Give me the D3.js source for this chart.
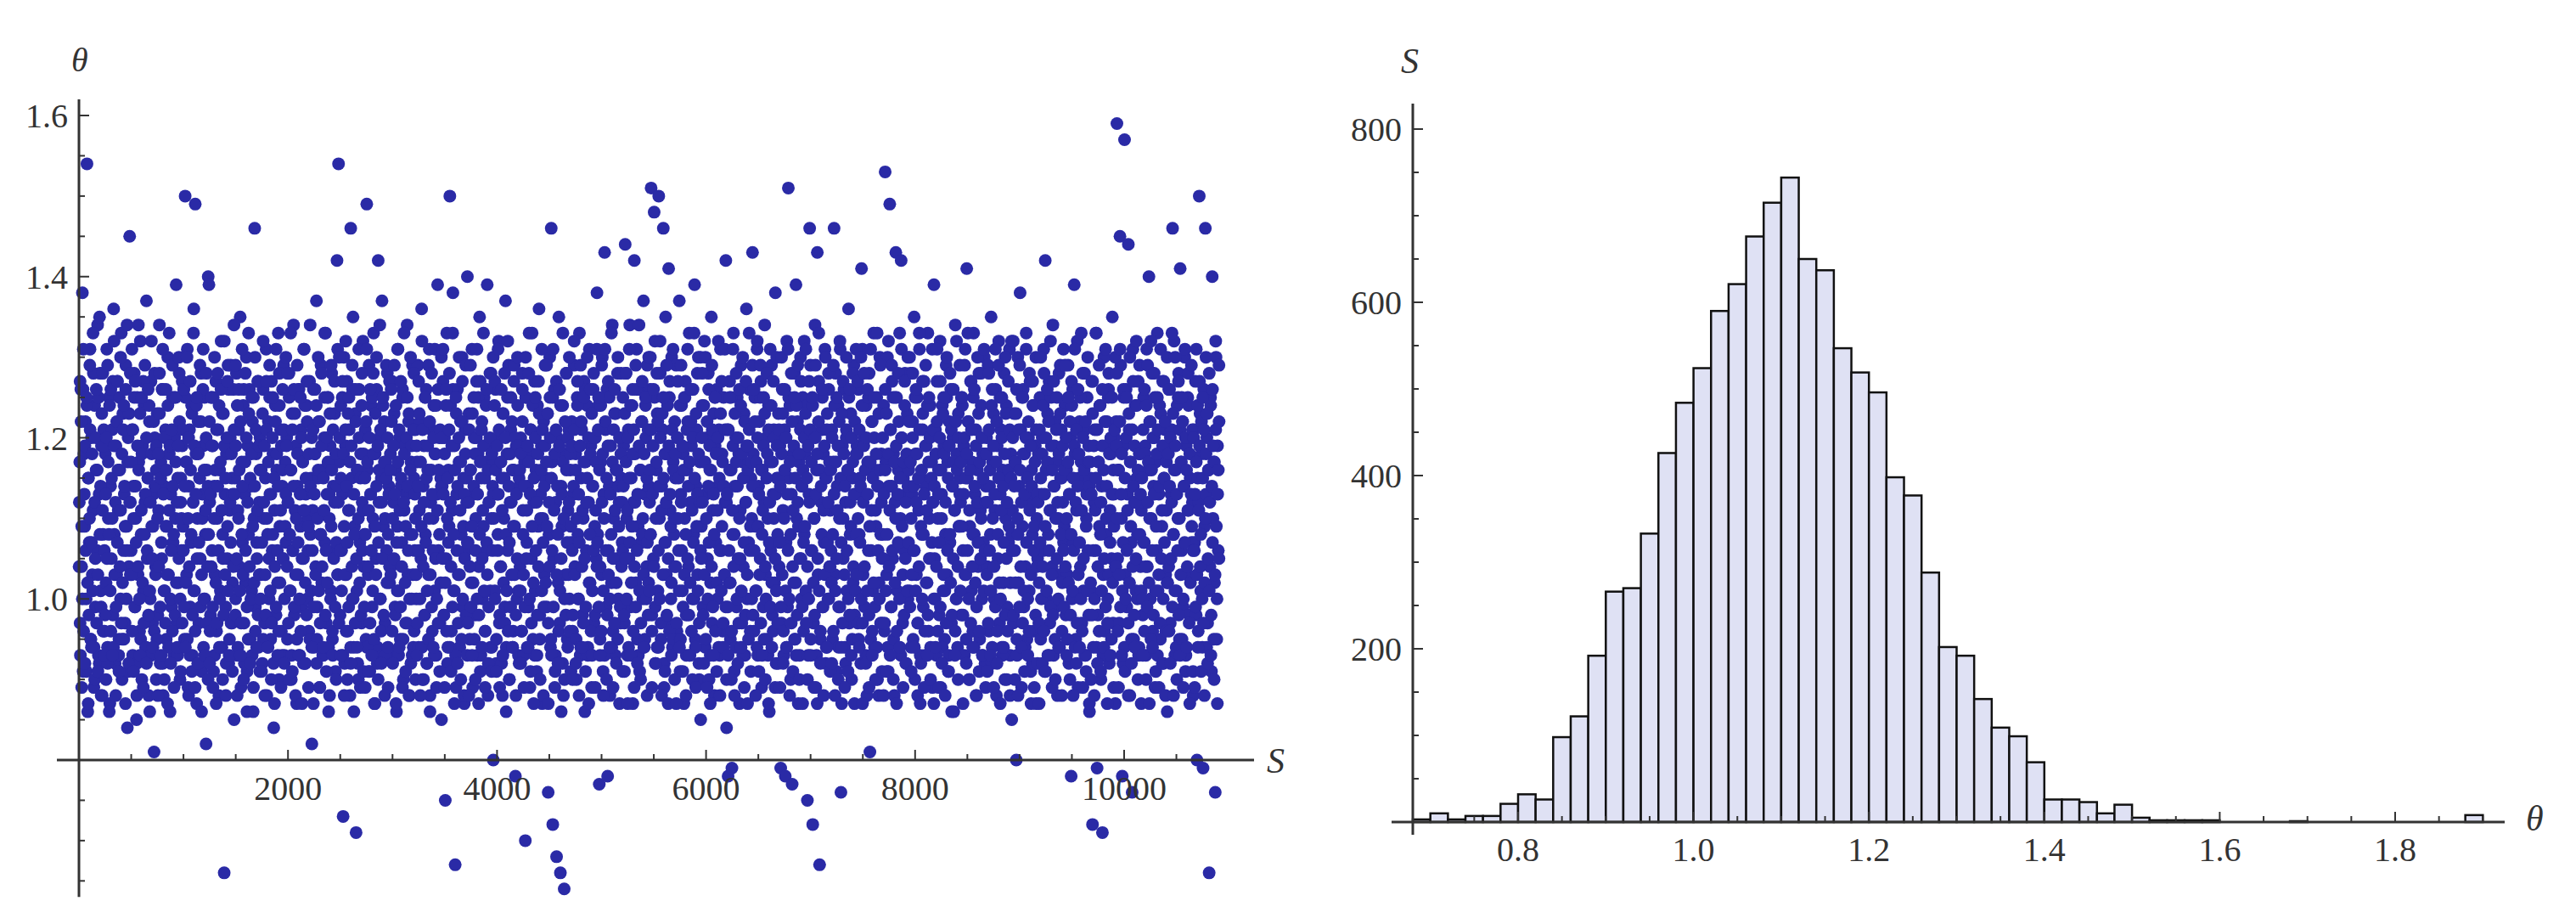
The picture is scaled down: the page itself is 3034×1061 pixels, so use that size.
<!DOCTYPE HTML>
<html>
  <head>
    <title>theta vs S scatter and histogram</title>
    <style>
      html, body { margin: 0; padding: 0; background: #fff; }
    </style>
  </head>
  <body>
    <svg width="3034" height="1061"></svg>
    <script src="https://cdnjs.cloudflare.com/ajax/libs/d3/7.8.5/d3.min.js"></script>
    <script>
      // scatter: theta*100 per block of S (block width 248)
      var scatterCols = [
        "112 97 126 104 138 91 118 109 122 100 154 86 115 107 131 95 120 103 111 89 124 99 116 106 134 93 113 128 101 119 88 108 121 96",
        "118 102 131 94 110 125 87 114 105 121 98 136 108 92 119 103 127 111 95 116 100 133 90 123 106 113 97 129 109 84 120 104 145 112",
        "106 121 93 114 128 99 110 85 125 103 117 96 132 108 90 119 101 124 112 94 137 105 115 88 122 100 127 109 97 113 81 120 104 116",
        "123 98 111 134 92 117 105 126 88 114 101 121 95 109 130 103 118 86 113 99 125 107 93 120 110 139 97 115 102 128 90 112 106 119",
        "109 126 95 150 117 103 131 89 114 121 99 107 124 93 112 136 101 149 118 87 110 122 97 115 105 128 91 113 119 100 125 108 82 116 104 140",
        "139 112 98 125 106 119 91 114 103 127 96 110 121 88 116 101 132 94 108 123 66 113 99 118 105 129 92 111 120 97 115 102 126 85",
        "115 100 128 93 111 121 104 135 89 117 107 124 97 113 102 130 91 119 108 126 95 114 101 122 86 110 146 99 118 105 127 94 112 120",
        "103 119 92 126 110 97 115 131 88 108 122 100 113 95 127 106 118 84 111 124 98 116 102 133 90 109 121 96 114 105 129 93 117 107",
        "120 95 112 128 101 116 90 123 106 134 98 111 119 87 114 103 126 93 109 121 99 117 105 131 92 113 124 100 110 96 127 108 115 82",
        "111 126 94 118 104 137 99 115 122 89 108 129 102 116 93 120 107 133 97 113 125 86 110 119 101 128 95 114 106 123 91 117 142 103",
        "154 117 98 124 106 113 73 130 92 119 103 127 96 111 121 88 146 115 100 135 94 109 123 71 101 116 90 126 107 118 97 112 132 104",
        "108 121 95 149 116 103 129 91 113 124 99 110 133 87 118 105 126 94 142 112 120 100 115 137 93 109 122 97 117 106 128 89 114 102",
        "118 104 127 93 112 123 99 116 86 109 131 101 120 95 114 107 125 90 111 119 97 113 134 103 122 88 108 117 100 129 94 115 106 121",
        "100 117 129 94 111 122 105 136 90 114 119 98 108 126 92 116 103 131 88 112 121 96 110 124 101 118 93 113 139 106 120 97 115 85",
        "114 127 98 120 75 105 133 92 116 109 150 124 96 111 138 101 119 67 89 113 126 103 117 94 122 108 130 99 115 87 121 106 112 140",
        "107 123 95 116 102 131 89 113 120 98 110 127 93 118 104 135 91 115 122 100 109 125 96 117 106 139 88 112 119 101 128 94 114 80",
        "117 101 126 92 113 108 132 97 120 104 115 88 123 110 99 137 94 118 106 129 90 112 121 103 116 96 127 109 78 119 100 124 93 114",
        "104 120 96 128 111 93 117 70 125 107 114 99 133 89 121 105 118 95 112 127 101 116 91 124 109 136 98 113 119 87 110 122 103 115",
        "115 99 123 76 108 130 94 146 117 72 105 126 91 112 68 120 102 135 97 66 114 109 124 88 64 118 103 128 95 111 121 100 116 107",
        "122 96 113 129 104 118 90 125 108 100 133 93 115 121 98 110 127 86 117 106 124 94 112 131 102 119 89 114 126 97 109 120 105 138",
        "108 124 77 95 117 103 130 91 113 143 121 99 126 78 106 114 88 119 102 134 96 110 123 93 116 105 128 100 112 120 97 115 107 125",
        "119 97 144 128 110 93 121 105 134 99 115 124 87 112 142 118 102 131 95 109 126 91 116 107 122 100 137 94 113 120 104 129 98 114",
        "112 126 151 98 119 105 148 132 92 116 123 101 150 110 128 95 114 121 146 89 107 135 103 118 97 141 125 111 100 130 94 117 108 122",
        "115 129 96 120 106 137 91 113 124 101 118 87 110 127 98 116 122 104 133 93 112 119 100 126 108 139 95 114 121 103 130 90 117 85",
        "109 124 99 117 132 94 113 120 105 128 90 116 102 135 97 111 123 88 119 107 126 100 114 121 93 131 106 118 96 125 103 112 142 84",
        "121 78 102 127 95 116 79 108 133 91 114 120 99 125 105 118 87 111 129 97 117 104 123 93 112 136 100 119 107 126 96 115 110 143",
        "118 96 125 109 101 131 93 114 122 105 127 89 116 99 112 134 103 120 95 110 124 86 117 106 129 98 113 121 102 138 92 115 108 123",
        "104 119 79 97 126 111 93 121 78 107 132 99 151 115 124 90 113 77 118 102 128 95 139 110 122 87 117 105 130 100 114 125 96 108",
        "118 101 124 75 93 113 146 129 106 120 72 97 110 134 89 116 143 103 127 67 95 112 121 99 118 107 131 92 115 123 100 126 104 111",
        "106 121 95 117 146 103 128 91 114 124 99 110 131 76 87 119 105 126 94 112 120 101 116 136 97 108 123 90 115 102 129 98 113 118",
        "119 97 126 108 115 92 141 131 103 120 99 113 124 88 117 106 128 81 95 111 122 101 133 94 116 109 125 90 114 102 130 97 118 105",
        "108 124 96 153 117 103 130 91 114 149 121 99 127 105 118 88 112 143 125 101 116 94 133 110 142 120 97 115 106 128 92 113 123 100",
        "116 101 128 94 113 122 106 135 90 118 103 125 97 111 131 87 115 108 121 99 127 93 114 119 102 133 96 110 124 105 117 89 112 139",
        "105 121 93 127 110 116 98 132 89 113 124 101 119 95 108 129 103 117 91 122 107 126 97 114 120 86 111 134 100 118 94 123 109 115",
        "112 98 125 106 119 93 131 103 141 115 122 90 109 127 101 117 96 133 108 113 121 88 116 104 128 95 111 124 100 118 107 130 92 114",
        "120 104 129 96 114 108 135 92 117 123 100 111 126 88 119 105 132 97 113 121 94 116 102 128 90 110 124 99 115 107 131 93 118 85",
        "111 97 123 106 117 80 93 130 102 114 138 121 89 109 126 99 118 104 133 95 112 120 101 127 91 116 108 124 96 113 119 87 110 105",
        "118 102 125 95 113 120 106 131 91 142 116 100 123 108 127 97 111 119 104 134 93 114 122 99 117 88 110 128 103 115 121 96 112 107",
        "109 124 98 116 103 129 92 113 120 78 100 126 107 139 118 95 111 132 89 115 122 104 117 97 128 101 114 121 93 110 125 106 119 86",
        "115 101 127 72 94 112 121 106 133 79 98 117 109 124 90 114 71 103 130 96 119 108 122 100 126 92 111 118 105 135 97 113 120 87",
        "122 159 105 116 97 145 129 110 78 92 119 157 103 126 99 113 144 121 88 117 107 76 131 95 112 124 101 115 108 127 94 118 104 111",
        "112 98 125 107 119 93 131 104 116 140 122 100 110 128 96 114 120 89 117 106 133 101 113 124 95 118 109 127 92 115 121 103 111 86",
        "119 104 126 97 113 121 146 108 132 93 116 101 124 110 128 95 141 117 106 122 99 114 130 91 119 103 125 111 98 115 120 107 112 88",
        "121 107 127 98 80 115 112 150 123 101 118 94 79 126 109 146 113 120 97 116 66 104 124 91 140 110 117 102 76 130 95 119 106 122"
      ];
      // denser core of the same blocks (second pass of reading)
      var scatterCore = [
        "104 117 93 122 109 100 126 96 113 119 106 91 124 102 115 98 110 121 95 107 118 101 128 94 112 105 120 97 116 103 125 92 108 114 99 123 111 96 119 106",
        "98 113 120 105 92 117 108 124 101 96 115 110 127 94 119 103 112 99 122 107 116 93 125 104 111 97 118 102 121 95 114 109 126 100 106 117 91 123 112 103",
        "117 103 96 121 110 125 99 114 107 92 119 104 116 100 123 95 111 118 102 127 97 108 113 94 120 106 115 98 124 101 112 93 118 105 109 122 96 114 103 119",
        "95 110 118 104 123 99 115 107 126 92 113 101 120 97 109 116 103 124 94 111 119 100 106 121 96 114 108 125 98 117 102 112 93 119 105 122 100 115 110 97",
        "121 106 99 114 125 102 117 95 110 120 104 93 116 108 123 98 112 101 119 96 113 124 105 92 118 107 115 99 122 103 110 126 94 116 100 111 120 97 108 114",
        "108 122 96 113 104 119 99 125 110 93 116 102 121 97 114 106 124 100 117 94 111 123 105 98 119 103 115 92 120 109 101 126 95 112 107 118 97 113 104 121",
        "113 98 119 105 124 94 110 116 101 122 97 108 114 103 126 92 117 106 120 99 112 95 123 104 115 100 118 93 109 125 102 114 96 121 107 111 98 119 103 116",
        "100 116 107 123 95 112 119 103 98 121 110 94 117 105 125 101 113 97 120 108 92 115 104 122 99 118 106 114 96 124 102 111 119 93 116 105 121 100 109 113",
        "119 104 112 97 125 108 101 116 93 121 106 114 99 123 103 110 95 118 107 126 100 113 96 120 105 117 92 111 124 102 115 98 122 106 109 118 95 114 101 120",
        "106 121 99 113 118 103 124 95 110 116 101 122 97 108 119 104 93 115 111 125 98 106 120 102 117 94 113 123 100 109 116 96 121 105 112 99 118 107 114 103",
        "112 97 120 106 115 101 125 93 118 109 103 121 96 114 107 123 99 111 117 94 119 104 126 100 113 108 97 122 105 116 92 110 120 102 115 98 124 106 111 118",
        "99 115 108 122 94 117 104 111 120 97 113 106 125 101 118 95 109 123 103 114 92 119 107 116 100 121 96 112 105 124 98 117 110 93 115 102 120 108 113 104",
        "116 103 122 96 110 119 105 113 98 124 107 101 117 93 121 111 99 115 104 126 95 112 118 102 109 120 97 114 106 123 100 116 92 119 108 103 121 96 113 110",
        "103 119 97 114 106 123 100 117 109 94 121 104 112 98 125 107 115 101 119 95 110 122 103 116 99 113 106 120 93 118 105 124 100 111 97 116 108 121 102 114",
        "120 105 113 98 118 102 124 96 110 115 107 121 94 112 104 119 99 126 108 101 116 93 123 106 114 97 120 103 111 117 95 122 100 109 113 105 118 98 115 107",
        "97 112 121 104 116 99 109 123 102 114 95 118 106 120 100 113 125 98 108 117 93 121 105 111 119 101 115 96 124 107 103 116 99 112 120 94 110 118 106 113",
        "110 124 100 116 95 119 106 113 121 98 104 117 92 111 123 102 115 97 120 108 101 125 96 114 107 118 99 112 122 94 109 116 103 120 98 113 105 119 101 115",
        "116 101 118 96 122 108 103 114 99 125 105 111 119 94 117 100 113 121 97 109 124 102 115 93 120 106 112 98 118 104 123 95 110 116 101 121 107 99 114 119",
        "102 117 109 123 97 112 104 120 95 115 106 125 99 111 118 93 121 103 114 108 96 119 101 124 105 113 92 117 110 100 122 98 116 107 120 103 112 96 118 109",
        "119 106 98 114 121 103 116 95 110 124 100 113 107 119 94 122 104 111 97 117 105 126 99 112 115 93 120 102 108 118 96 123 101 114 106 120 98 111 117 104",
        "107 121 99 116 104 124 96 112 118 101 110 93 122 106 115 98 119 103 125 100 113 108 94 117 105 121 97 111 123 102 116 95 114 109 120 99 118 104 112 106",
        "114 98 123 105 117 100 111 120 94 115 107 124 102 109 118 96 121 104 112 99 126 106 113 93 119 101 116 97 122 108 110 103 118 95 124 100 115 107 121 102",
        "101 116 108 121 96 113 119 104 125 99 110 117 94 122 106 114 100 120 97 111 123 103 115 92 118 107 112 98 124 105 119 96 113 109 102 121 95 116 110 104",
        "118 104 97 120 110 115 101 124 95 112 106 119 99 116 103 125 108 93 121 105 114 98 117 102 122 96 111 120 107 100 115 94 123 109 113 101 118 97 112 106",
        "105 120 112 98 124 103 117 95 110 122 100 114 107 119 93 116 104 121 99 113 108 125 96 118 102 111 120 94 115 106 123 101 109 117 97 114 103 121 99 112",
        "113 99 121 106 116 102 125 96 111 119 104 108 123 94 117 100 114 120 97 110 105 124 101 118 93 115 107 122 98 112 119 103 116 95 121 106 109 117 100 114",
        "98 114 106 122 101 117 94 120 109 113 103 125 97 116 108 111 119 95 123 104 100 115 118 93 121 107 112 99 124 102 117 96 110 120 105 113 101 119 97 115",
        "121 107 114 99 118 103 123 96 110 116 101 120 94 113 106 125 100 117 108 97 122 104 111 119 95 115 102 124 98 112 109 118 93 121 105 114 99 116 107 120",
        "109 123 97 115 104 119 100 112 121 95 117 106 124 102 110 98 120 113 93 118 105 122 101 116 96 114 108 125 99 111 119 103 115 94 121 107 112 100 117 104",
        "116 102 120 108 96 113 124 101 117 105 111 119 94 122 99 115 107 123 97 110 118 103 114 92 121 106 116 100 125 98 112 109 120 95 117 104 113 122 101 108",
        "103 118 110 95 121 107 114 100 124 97 112 119 104 116 93 120 101 113 125 98 109 117 106 122 96 115 102 120 99 111 118 94 114 106 123 100 116 108 112 97",
        "120 105 113 97 116 101 123 108 94 118 104 111 121 99 114 106 125 95 117 102 110 119 96 113 107 122 100 115 93 120 109 103 117 98 124 105 112 118 101 114",
        "107 122 99 117 110 103 120 95 114 106 125 101 112 118 97 115 104 121 93 109 116 100 123 108 113 96 119 102 111 124 98 117 105 120 94 115 107 112 121 100",
        "114 100 118 104 122 96 113 107 120 99 116 110 94 123 103 118 101 112 97 125 106 115 93 119 108 102 121 98 114 105 117 111 96 122 100 116 104 120 109 113",
        "101 117 109 124 98 113 120 103 115 95 118 106 122 100 111 116 97 121 104 108 125 94 114 102 119 99 112 107 123 96 117 105 110 120 93 115 101 118 106 112",
        "118 103 112 97 121 106 116 101 124 94 110 119 104 113 99 117 122 96 108 115 102 125 100 111 120 93 114 107 118 98 123 105 112 96 116 109 121 102 115 108",
        "106 120 98 114 117 102 123 95 110 108 121 99 116 104 112 125 97 118 101 113 94 120 107 115 100 122 96 111 119 103 114 92 124 106 109 117 98 121 104 113",
        "112 97 121 107 115 100 118 104 124 96 113 109 120 101 117 93 122 106 111 99 125 103 116 98 114 119 95 110 121 105 112 100 118 94 123 108 115 102 119 106",
        "99 116 104 120 110 95 117 102 113 122 98 108 124 101 115 106 119 94 112 121 97 114 103 118 107 125 100 111 96 120 105 116 93 122 109 113 101 117 98 114",
        "117 102 113 98 123 106 119 100 111 115 94 121 104 117 96 124 108 112 101 119 93 116 105 122 99 110 114 97 125 103 118 107 120 95 113 102 116 109 121 104",
        "104 119 110 96 116 103 122 99 113 118 101 107 125 94 115 100 120 106 111 97 123 102 117 109 95 121 104 114 98 119 112 105 124 100 116 93 118 108 113 101",
        "115 100 121 107 96 118 104 124 99 112 117 102 110 122 95 116 106 120 98 113 125 101 109 118 93 121 103 114 97 123 105 111 119 100 115 107 122 96 117 102",
        "102 118 96 114 120 105 112 99 123 108 116 101 119 94 113 106 125 98 110 121 103 117 95 122 100 114 107 120 93 116 104 111 124 97 118 102 113 109 121 106",
        "120 106 113 99 117 103 124 96 111 119 104 108 122 100 115 97 121 102 110 118 94 123 105 116 101 112 125 98 114 107 119 95 117 103 121 109 100 113 116 105"
      ];
      // fringe of the band (upper and lower edges) per block
      var scatterFringe = [
        "127 89 131 92 125 87 129 94 133 90 126 91 135 88 128 93",
        "90 129 86 126 93 132 88 127 91 130 95 124 87 134 92 128",
        "131 91 127 88 134 93 125 89 129 92 126 86 132 94 128 90",
        "88 128 93 131 90 126 87 133 92 129 89 125 94 130 91 127",
        "126 94 130 88 127 91 133 89 125 92 129 86 131 93 128 90",
        "92 125 89 130 87 128 94 126 90 132 88 127 93 129 91 134",
        "129 88 126 93 131 90 128 86 133 92 125 89 130 94 127 91",
        "91 132 88 127 94 129 90 125 87 131 93 128 89 126 92 130",
        "128 90 133 91 126 88 129 93 125 87 131 92 127 89 134 94",
        "87 126 92 130 89 128 94 133 91 125 88 129 93 127 90 131",
        "130 93 127 88 132 90 125 92 129 86 126 94 131 89 128 91",
        "89 131 91 126 93 128 87 130 90 134 92 125 88 129 94 127",
        "126 92 129 87 131 94 127 89 133 91 125 88 130 93 128 90",
        "93 127 88 132 90 125 92 129 86 128 94 131 89 126 91 130",
        "131 89 126 94 128 91 133 87 125 92 130 90 127 88 129 93",
        "88 129 93 125 90 131 87 127 94 133 89 126 92 128 91 130",
        "127 91 131 89 126 93 128 86 132 90 125 94 129 88 130 92",
        "92 126 89 130 94 128 91 133 87 125 93 127 90 131 88 129",
        "129 87 125 93 131 89 127 92 126 86 133 90 128 94 130 91",
        "90 132 92 127 88 129 94 125 91 130 87 126 93 128 89 131",
        "125 93 129 88 131 90 127 94 133 89 126 92 130 87 128 91",
        "91 128 87 131 93 126 89 129 92 134 90 127 94 125 88 130",
        "130 89 126 92 128 94 132 88 125 91 129 87 127 93 131 90",
        "87 127 94 129 91 125 88 131 93 126 90 133 89 128 92 130",
        "128 92 130 89 126 87 129 93 125 91 132 88 127 94 131 90",
        "93 125 90 131 88 128 92 126 94 130 89 127 87 133 91 129",
        "126 88 132 91 129 93 125 90 128 87 131 94 127 89 130 92",
        "89 130 92 126 94 131 88 128 91 125 93 129 90 127 87 132",
        "131 90 127 93 125 89 129 87 133 92 126 88 130 94 128 91",
        "92 129 88 125 90 132 94 127 89 130 91 126 93 128 87 131",
        "127 94 130 87 128 92 126 89 131 93 125 90 133 88 129 91",
        "88 126 91 132 93 129 90 125 87 128 94 131 89 127 92 130",
        "130 91 128 94 126 88 133 92 127 89 129 93 125 90 131 87",
        "94 131 89 127 92 125 88 130 91 128 86 126 93 132 90 129",
        "125 87 129 92 133 90 127 94 126 88 130 91 128 93 131 89",
        "91 128 93 126 89 131 92 129 87 125 94 130 90 127 88 132",
        "132 90 126 88 129 94 125 91 131 93 128 87 127 89 130 92",
        "87 130 92 128 91 126 93 132 89 127 90 125 94 129 88 131",
        "129 93 125 90 127 88 131 92 126 94 133 89 128 91 130 87",
        "90 127 88 133 92 129 91 126 94 131 87 128 93 125 89 130",
        "128 89 131 93 126 91 125 88 130 92 127 94 132 90 129 87",
        "93 126 90 129 87 132 94 128 91 125 89 131 92 127 88 130",
        "126 92 133 88 130 90 127 93 125 89 131 94 128 87 129 91",
        "89 131 94 127 91 125 88 130 92 128 93 126 90 132 87 129"
      ];
      var blockWidth = 248;

      // histogram: theta bins (left edges, width 0.02) and counts S
      var binStarts = [0.68,0.70,0.72,0.74,0.76,0.78,0.80,0.82,0.84,0.86,0.88,0.90,0.92,0.94,0.96,0.98,
        1.00,1.02,1.04,1.06,1.08,1.10,1.12,1.14,1.16,1.18,1.20,1.22,1.24,1.26,1.28,1.30,1.32,1.34,1.36,1.38,
        1.40,1.42,1.44,1.46,1.48,1.50,1.52,1.54,1.56,1.58,1.68,1.88];
      var binCounts = [3,10,3,7,7,21,32,26,98,122,192,266,270,333,426,484,
        524,590,621,676,715,744,650,637,547,519,496,398,377,288,202,192,142,109,99,69,
        26,26,23,10,20,5,2,2,2,2,1,8];
      var binWidth = 0.02;

      var leftXTicks = [2000, 4000, 6000, 8000, 10000];
      var leftYTicks = [1.0, 1.2, 1.4, 1.6];
      var rightXTicks = [0.8, 1.0, 1.2, 1.4, 1.6, 1.8];
      var rightYTicks = [200, 400, 600, 800];

      var points = [];
      function addBlocks(cols, shift) {
        cols.forEach(function(str, c) {
          var vals = str.split(' ').map(Number);
          vals.forEach(function(v, i) {
            points.push({ s: c * blockWidth + (i + shift) * blockWidth / vals.length, t: v / 100 });
          });
        });
      }
      addBlocks(scatterCols, 0.5);
      addBlocks(scatterCore, 0.25);
      addBlocks(scatterFringe, 0.7);

      var svg = d3.select('svg');
      var axisColor = '#333';
      var serif = '"Liberation Serif", "DejaVu Serif", serif';

      // ---- left: scatter ----
      var xL = d3.scaleLinear().domain([0, 10000]).range([93, 1324]);
      var yL = d3.scaleLinear().domain([0.8, 1.6]).range([895, 136]);

      svg.append('g').selectAll('circle')
        .data(points)
        .enter()
        .append('circle')
          .attr('r', 7.5)
          .attr('cx', function(d) { return xL(d.s); })
          .attr('cy', function(d) { return yL(d.t); })
          .attr('fill', '#2a2aa6');

      var gl = svg.append('g').attr('stroke', axisColor);
      gl.append('line').attr('x1', 67).attr('x2', 1477).attr('y1', yL(0.8)).attr('y2', yL(0.8)).attr('stroke-width', 3);
      gl.append('line').attr('x1', xL(0)).attr('x2', xL(0)).attr('y1', yL(1.62)).attr('y2', yL(0.63)).attr('stroke-width', 3);
      d3.range(500, 11000, 500).forEach(function(v) {
        var len = v % 2000 === 0 ? 12 : 7;
        gl.append('line').attr('x1', xL(v)).attr('x2', xL(v)).attr('y1', yL(0.8)).attr('y2', yL(0.8) - len).attr('stroke-width', 2);
      });
      d3.range(0.65, 1.61, 0.05).forEach(function(v) {
        if (Math.abs(v - 0.8) < 0.001) return;
        var major = Math.abs(Math.round(v * 10) / 10 - v) < 0.001 && Math.round(v * 10) % 2 === 0;
        gl.append('line').attr('x1', xL(0)).attr('x2', xL(0) + (major ? 12 : 7)).attr('y1', yL(v)).attr('y2', yL(v)).attr('stroke-width', 2);
      });

      function label(x, y, txt, anchor, size, italic) {
        svg.append('text').attr('x', x).attr('y', y)
          .attr('text-anchor', anchor).attr('font-size', size)
          .attr('font-family', serif).attr('fill', '#333')
          .attr('font-style', italic ? 'italic' : 'normal')
          .text(txt);
      }
      leftXTicks.forEach(function(d) { label(xL(d), 942, d, 'middle', 40); });
      leftYTicks.forEach(function(d) { label(80, yL(d) + 14, d.toFixed(1), 'end', 40); });
      label(1492, 910, 'S', 'start', 42, true);
      label(84, 84, 'θ', 'start', 40, true);

      // ---- right: histogram ----
      var xR = d3.scaleLinear().domain([0.8, 1.8]).range([1788, 2821]);
      var yR = d3.scaleLinear().domain([0, 800]).range([968, 152]);

      svg.append('g').selectAll('rect')
        .data(binStarts)
        .enter()
        .append('rect')
          .attr('x', function(d) { return xR(d); })
          .attr('width', function(d) { return xR(d + binWidth) - xR(d); })
          .attr('y', function(d, i) { return yR(binCounts[i]); })
          .attr('height', function(d, i) { return yR(0) - yR(binCounts[i]); })
          .attr('fill', '#dfe1f4')
          .attr('stroke', '#111')
          .attr('stroke-width', 2.5);

      var gr = svg.append('g').attr('stroke', axisColor);
      gr.append('line').attr('x1', 1639).attr('x2', 2950).attr('y1', yR(0)).attr('y2', yR(0)).attr('stroke-width', 3);
      gr.append('line').attr('x1', 1664).attr('x2', 1664).attr('y1', 122).attr('y2', 983).attr('stroke-width', 3);
      d3.range(0.75, 1.91, 0.05).forEach(function(v) {
        var major = Math.abs(Math.round(v * 5) / 5 - v) < 0.001;
        gr.append('line').attr('x1', xR(v)).attr('x2', xR(v)).attr('y1', yR(0)).attr('y2', yR(0) - (major ? 12 : 7)).attr('stroke-width', 2);
      });
      d3.range(50, 801, 50).forEach(function(v) {
        gr.append('line').attr('x1', 1664).attr('x2', 1664 + (v % 200 === 0 ? 12 : 7)).attr('y1', yR(v)).attr('y2', yR(v)).attr('stroke-width', 2);
      });
      rightXTicks.forEach(function(d) { label(xR(d), 1014, d.toFixed(1), 'middle', 40); });
      rightYTicks.forEach(function(d) { label(1651, yR(d) + 14, d, 'end', 40); });
      label(2975, 978, 'θ', 'start', 42, true);
      label(1650, 86, 'S', 'start', 42, true);
    </script>
  </body>
</html>
